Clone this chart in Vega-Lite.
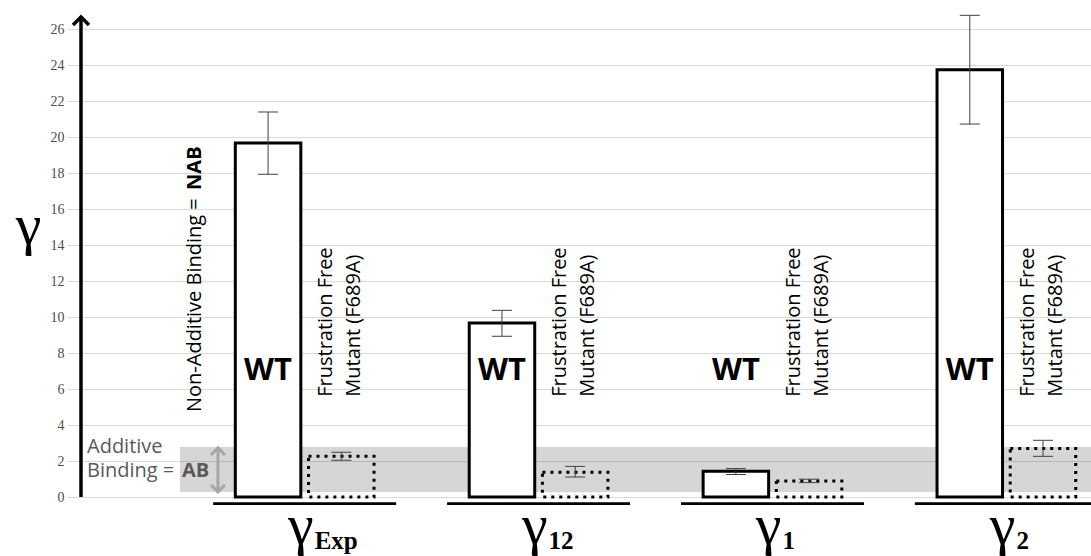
{
  "$schema": "https://vega.github.io/schema/vega-lite/v6.json",
  "width": 1010,
  "height": 468,
  "autosize": {"type": "none"},
  "padding": {"left": 81, "top": 29, "right": 0, "bottom": 59},
  "background": "white",
  "config": {
    "view": {"stroke": null},
    "axisY": {
      "grid": true,
      "gridColor": "#d9d9d9",
      "gridWidth": 1,
      "domain": false,
      "tickColor": "#d9d9d9",
      "tickSize": 14,
      "tickCount": 13,
      "labelFont": "Liberation Serif",
      "labelFontSize": 14,
      "labelColor": "#4d4d4d",
      "labelPadding": 3,
      "titleFont": "Liberation Serif",
      "titleFontSize": 58,
      "titleFontWeight": "normal",
      "titleColor": "black",
      "titleAngle": 0,
      "titleAlign": "center",
      "titleBaseline": "alphabetic",
      "titleX": -53,
      "titleY": 214
    }
  },
  "data": {
    "values": [
      {"g": "Exp", "s": "WT", "v": 19.66, "lo": 17.93, "hi": 21.39},
      {"g": "Exp", "s": "Mutant", "v": 2.27, "lo": 2.04, "hi": 2.48},
      {"g": "12", "s": "WT", "v": 9.67, "lo": 8.93, "hi": 10.37},
      {"g": "12", "s": "Mutant", "v": 1.38, "lo": 1.11, "hi": 1.70},
      {"g": "1", "s": "WT", "v": 1.43, "lo": 1.25, "hi": 1.58},
      {"g": "1", "s": "Mutant", "v": 0.89, "lo": 0.80, "hi": 0.99},
      {"g": "2", "s": "WT", "v": 23.74, "lo": 20.72, "hi": 26.76},
      {"g": "2", "s": "Mutant", "v": 2.69, "lo": 2.26, "hi": 3.15}
    ]
  },
  "layer": [
    {
      "data": {"values": [{"band": "Additive Binding"}]},
      "mark": {"type": "rect", "fill": "black", "fillOpacity": 0.16},
      "encoding": {
        "x": {"datum": 0.098, "type": "quantitative", "scale": {"domain": [0, 1]}, "axis": null},
        "x2": {"datum": 1},
        "y": {"datum": 0.28, "type": "quantitative", "title": "γ", "scale": {"domain": [0, 26], "nice": false}},
        "y2": {"datum": 2.78}
      }
    },
    {
      "encoding": {
        "x": {
          "field": "g",
          "type": "nominal",
          "sort": ["Exp", "12", "1", "2"],
          "scale": {"paddingInner": 0.407, "paddingOuter": 0.3625, "align": 0.91},
          "axis": null
        }
      },
      "layer": [
        {
          "mark": {"type": "bar", "stroke": "black", "strokeWidth": 3},
          "encoding": {
            "xOffset": {"field": "s", "type": "nominal", "sort": ["WT", "Mutant"], "scale": {"paddingInner": 0.105, "paddingOuter": 0}},
            "y": {"field": "v", "type": "quantitative", "title": "γ"},
            "fill": {"field": "s", "type": "nominal", "scale": {"domain": ["WT", "Mutant"], "range": ["#ffffff", "rgba(255,255,255,0)"]}, "legend": null},
            "strokeDash": {"field": "s", "type": "nominal", "scale": {"domain": ["WT", "Mutant"], "range": [[1, 0], [3, 5]]}, "legend": null}
          }
        },
        {
          "mark": {"type": "rule", "color": "#404040", "strokeWidth": 1},
          "encoding": {
            "xOffset": {"field": "s", "type": "nominal", "sort": ["WT", "Mutant"]},
            "y": {"field": "lo", "type": "quantitative", "title": "γ"},
            "y2": {"field": "hi"}
          }
        },
        {
          "mark": {"type": "tick", "orient": "horizontal", "size": 20, "thickness": 1, "color": "#404040", "opacity": 1},
          "encoding": {
            "xOffset": {"field": "s", "type": "nominal", "sort": ["WT", "Mutant"]},
            "y": {"field": "lo", "type": "quantitative", "title": "γ"}
          }
        },
        {
          "mark": {"type": "tick", "orient": "horizontal", "size": 20, "thickness": 1, "color": "#404040", "opacity": 1},
          "encoding": {
            "xOffset": {"field": "s", "type": "nominal", "sort": ["WT", "Mutant"]},
            "y": {"field": "hi", "type": "quantitative", "title": "γ"}
          }
        },
        {
          "transform": [{"filter": "datum.s === 'WT'"}],
          "mark": {"type": "text", "font": "Open Sans", "fontWeight": "bold", "fontSize": 31, "baseline": "alphabetic", "color": "black"},
          "encoding": {
            "xOffset": {"field": "s", "type": "nominal", "sort": ["WT", "Mutant"]},
            "y": {"datum": 6.5, "type": "quantitative", "title": "γ"},
            "text": {"field": "s"}
          }
        },
        {
          "transform": [{"filter": "datum.s === 'Mutant'"}],
          "mark": {
            "type": "text",
            "text": ["Frustration Free", "Mutant (F689A)"],
            "font": "Open Sans",
            "fontSize": 20,
            "lineHeight": 28,
            "angle": 270,
            "align": "left",
            "baseline": "middle",
            "dy": -15,
            "color": "black"
          },
          "encoding": {
            "xOffset": {"field": "s", "type": "nominal", "sort": ["WT", "Mutant"]},
            "y": {"datum": 5.57, "type": "quantitative", "title": "γ"}
          }
        },
        {
          "transform": [{"filter": "datum.s === 'WT'"}],
          "mark": {"type": "tick", "orient": "horizontal", "size": 183, "thickness": 2.6, "color": "black", "opacity": 1},
          "encoding": {
            "y": {"datum": -0.37, "type": "quantitative", "title": "γ"}
          }
        },
        {
          "transform": [{"filter": "datum.s === 'WT'"}],
          "mark": {"type": "text", "text": "γ", "font": "Liberation Serif", "fontSize": 58, "align": "right", "baseline": "alphabetic", "dx": 9, "color": "black"},
          "encoding": {
            "y": {"datum": -2.6, "type": "quantitative", "title": "γ"}
          }
        },
        {
          "transform": [{"filter": "datum.s === 'WT'"}],
          "mark": {"type": "text", "font": "Liberation Serif", "fontWeight": "bold", "fontSize": 25, "align": "left", "baseline": "alphabetic", "dx": 10, "color": "black"},
          "encoding": {
            "y": {"datum": -2.9, "type": "quantitative", "title": "γ"},
            "text": {"field": "g"}
          }
        }
      ]
    },
    {
      "data": {"values": [{"note": "annotations"}]},
      "encoding": {
        "x": {"datum": 0, "type": "quantitative", "scale": {"domain": [0, 1]}, "axis": null}
      },
      "layer": [
        {
          "mark": {"type": "rule", "color": "black", "strokeWidth": 3.5},
          "encoding": {
            "y": {"datum": 0, "type": "quantitative", "title": "γ"},
            "y2": {"datum": 26.67}
          }
        },
        {
          "mark": {"type": "point", "shape": "M-1,0.5L0,-0.5L1,0.5", "filled": false, "stroke": "black", "strokeWidth": 3.5, "size": 256, "opacity": 1},
          "encoding": {
            "y": {"datum": 26.44, "type": "quantitative", "title": "γ"}
          }
        },
        {
          "mark": {"type": "rule", "color": "#a6a6a6", "strokeWidth": 3},
          "encoding": {
            "x": {"datum": 0.1356, "type": "quantitative"},
            "y": {"datum": 0.3, "type": "quantitative", "title": "γ"},
            "y2": {"datum": 2.72}
          }
        },
        {
          "mark": {"type": "point", "shape": "M-1,0.5L0,-0.5L1,0.5", "filled": false, "stroke": "#a6a6a6", "strokeWidth": 3, "size": 196, "opacity": 1},
          "encoding": {
            "x": {"datum": 0.1356, "type": "quantitative"},
            "y": {"datum": 2.53, "type": "quantitative", "title": "γ"}
          }
        },
        {
          "mark": {"type": "point", "shape": "M-1,-0.5L0,0.5L1,-0.5", "filled": false, "stroke": "#a6a6a6", "strokeWidth": 3, "size": 196, "opacity": 1},
          "encoding": {
            "x": {"datum": 0.1356, "type": "quantitative"},
            "y": {"datum": 0.48, "type": "quantitative", "title": "γ"}
          }
        },
        {
          "mark": {"type": "text", "text": "Additive", "font": "Open Sans", "fontSize": 20, "align": "left", "baseline": "alphabetic", "dx": 6, "color": "#595959"},
          "encoding": {
            "y": {"datum": 2.46, "type": "quantitative", "title": "γ"}
          }
        },
        {
          "mark": {"type": "text", "text": "Binding =", "font": "Open Sans", "fontSize": 20, "align": "left", "baseline": "alphabetic", "dx": 6, "color": "#595959"},
          "encoding": {
            "y": {"datum": 1.09, "type": "quantitative", "title": "γ"}
          }
        },
        {
          "mark": {"type": "text", "text": "AB", "font": "Open Sans", "fontWeight": "bold", "fontSize": 20, "align": "left", "baseline": "alphabetic", "color": "#595959"},
          "encoding": {
            "x": {"datum": 0.1, "type": "quantitative"},
            "y": {"datum": 1.09, "type": "quantitative", "title": "γ"}
          }
        },
        {
          "mark": {"type": "text", "text": "Non-Additive Binding = ", "font": "Open Sans", "fontSize": 20, "angle": 270, "align": "left", "baseline": "middle", "color": "black"},
          "encoding": {
            "x": {"datum": 0.113, "type": "quantitative"},
            "y": {"datum": 4.72, "type": "quantitative", "title": "γ"}
          }
        },
        {
          "mark": {"type": "text", "text": "NAB", "font": "Open Sans", "fontWeight": "bold", "fontSize": 20, "angle": 270, "align": "left", "baseline": "middle", "color": "black"},
          "encoding": {
            "x": {"datum": 0.113, "type": "quantitative"},
            "y": {"datum": 17.06, "type": "quantitative", "title": "γ"}
          }
        }
      ]
    }
  ],
  "resolve": {"scale": {"x": "independent"}}
}
